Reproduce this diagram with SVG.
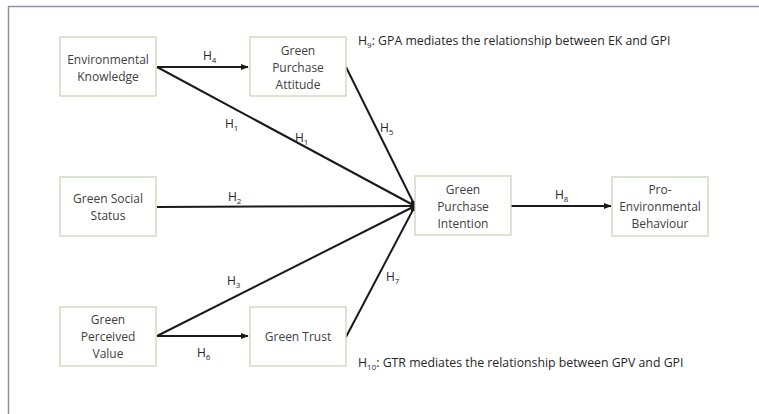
<svg xmlns="http://www.w3.org/2000/svg" width="759" height="414" viewBox="0 0 759 414">
<defs>
<style>
.box{fill:#ffffff;stroke:#c9d6bb;stroke-width:1.3}
.t{font-family:"Open Sans","Liberation Sans",sans-serif;font-size:12px;fill:#404040;text-anchor:middle}
.l{font-family:"Open Sans","Liberation Sans",sans-serif;font-size:12px;fill:#262626}
.n{font-size:12.3px}
.s{font-size:8px}
.c{stroke:#1a1a1a;stroke-width:2;fill:none}
</style>
<marker id="ah" viewBox="0 0 10 10" refX="9" refY="5" markerWidth="4" markerHeight="4" orient="auto" markerUnits="strokeWidth">
<path d="M0,1 L10,5 L0,9 z" fill="#1a1a1a"/>
</marker>
</defs>
<rect x="0" y="0" width="759" height="414" fill="#ffffff"/>
<rect x="8.5" y="6.5" width="760" height="420" fill="none" stroke="#8794a8" stroke-width="1.5"/>

<g id="connectors">
<line class="c" x1="157" y1="67" x2="248" y2="67" marker-end="url(#ah)"/>
<line class="c" x1="157" y1="67" x2="415" y2="206"/>
<line class="c" x1="346" y1="67" x2="415" y2="206"/>
<line class="c" x1="157" y1="207" x2="415" y2="206"/>
<line class="c" x1="157" y1="336" x2="415" y2="206"/>
<line class="c" x1="157" y1="336" x2="248" y2="336" marker-end="url(#ah)"/>
<line class="c" x1="346" y1="337" x2="415" y2="206"/>
<line class="c" x1="511" y1="206" x2="611" y2="206" marker-end="url(#ah)"/>
<rect x="411" y="201" width="5" height="10" fill="#1a1a1a"/>
</g>

<g id="labels">
<text class="l" x="203" y="60">H<tspan class="s" dy="3">4</tspan></text>
<text class="l" x="225" y="128">H<tspan class="s" dy="3">1</tspan></text>
<text class="l" x="295" y="142">H<tspan class="s" dy="3">1</tspan></text>
<text class="l" x="228" y="201">H<tspan class="s" dy="3">2</tspan></text>
<text class="l" x="227" y="285">H<tspan class="s" dy="3">3</tspan></text>
<text class="l" x="197" y="357">H<tspan class="s" dy="3">6</tspan></text>
<text class="l" x="380" y="132">H<tspan class="s" dy="3">5</tspan></text>
<text class="l" x="386" y="281">H<tspan class="s" dy="3">7</tspan></text>
<text class="l" x="555" y="199">H<tspan class="s" dy="3">8</tspan></text>
<text class="l n" x="358" y="45">H<tspan class="s" dy="3">9</tspan><tspan dy="-3">: GPA mediates the relationship between EK and GPI</tspan></text>
<text class="l n" x="358" y="367">H<tspan class="s" dy="3">10</tspan><tspan dy="-3">: GTR mediates the relationship between GPV and GPI</tspan></text>
</g>

<g id="ek"><rect class="box" x="60" y="37" width="96" height="59"/>
<text class="t" x="108" y="64">Environmental</text><text class="t" x="108" y="81">Knowledge</text></g>
<g id="gpa"><rect class="box" x="250" y="37" width="96" height="59"/>
<text class="t" x="298" y="55">Green</text><text class="t" x="298" y="72">Purchase</text><text class="t" x="298" y="89">Attitude</text></g>
<g id="gss"><rect class="box" x="60" y="177" width="96" height="59"/>
<text class="t" x="108" y="203">Green Social</text><text class="t" x="108" y="220">Status</text></g>
<g id="gpv"><rect class="box" x="60" y="307" width="96" height="59"/>
<text class="t" x="108" y="324">Green</text><text class="t" x="108" y="341">Perceived</text><text class="t" x="108" y="358">Value</text></g>
<g id="gt"><rect class="box" x="250" y="307" width="96" height="59"/>
<text class="t" x="298" y="341">Green Trust</text></g>
<g id="gpi"><rect class="box" x="415" y="176" width="96" height="59"/>
<text class="t" x="463" y="194">Green</text><text class="t" x="463" y="211">Purchase</text><text class="t" x="463" y="228">Intention</text></g>
<g id="peb"><rect class="box" x="612" y="177" width="96" height="59"/>
<text class="t" x="660" y="194">Pro-</text><text class="t" x="660" y="211">Environmental</text><text class="t" x="660" y="228">Behaviour</text></g>
</svg>
